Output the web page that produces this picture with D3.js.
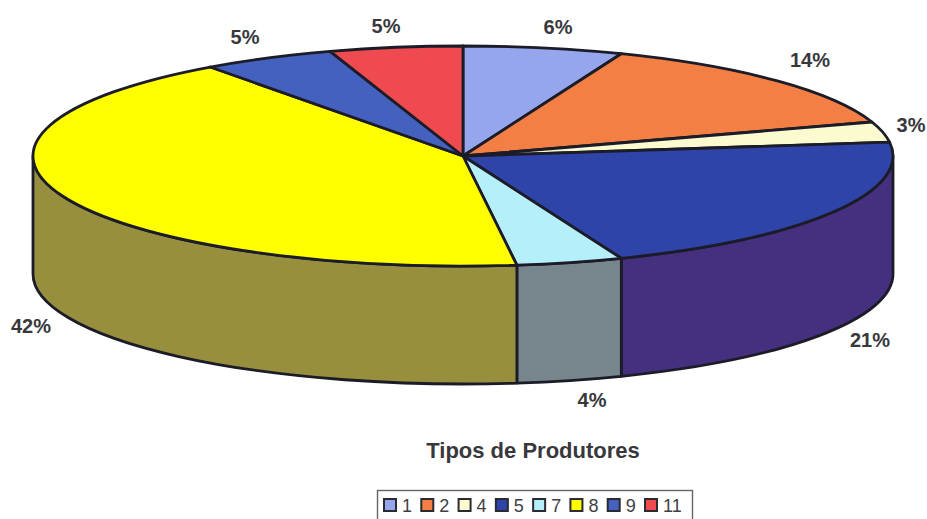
<!DOCTYPE html>
<html>
<head>
<meta charset="utf-8">
<title>Tipos de Produtores</title>
<script src="https://cdnjs.cloudflare.com/ajax/libs/d3/7.8.5/d3.min.js"></script>
<style>
body { margin: 0; background: #fff; }
text { font-family: "Liberation Sans", Arial, sans-serif; fill: #38383c; }
.pct { font-size: 20px; font-weight: bold; }
.title { font-size: 22px; font-weight: bold; }
.leg { font-size: 18px; fill: #404044; }
</style>
</head>
<body>
<div id="chart"></div>
<script>
// Producer types and their share, clockwise from twelve o'clock
var categories = ['1', '2', '4', '5', '7', '8', '9', '11'];
var shares = [6, 14, 3, 21, 4, 42, 5, 5];
var topColors = ['#95a6ec', '#f47f45', '#fbfbcf', '#2f44a8', '#b5effa', '#ffff00', '#4461bf', '#ef4a50'];
var sideColors = ['#6f7cb0', '#b65f34', '#bcbc9b', '#44307f', '#76868b', '#978f3e', '#33488f', '#b3383c'];
var labelPos = [
    [558, 27], [810, 60], [911, 125], [870, 340], [592, 400], [31, 326], [245, 37], [386, 26]
];

var w = 927, h = 519;
var cx = 463, cy = 156, rx = 430, ry = 110, depth = 118;

var svg = d3.select('#chart').append('svg')
    .attr('width', w)
    .attr('height', h)
    .style('display', 'block');

var pie = d3.pie().sort(null).value(function(d) { return d; });
var arcs = pie(shares);

// point on the top ellipse, angle clockwise from the top
function px(a) { return cx + rx * Math.sin(a); }
function py(a) { return cy - ry * Math.cos(a); }

function topSlice(d) {
    var large = d.endAngle - d.startAngle > Math.PI ? 1 : 0;
    return 'M' + cx + ',' + cy +
        'L' + px(d.startAngle) + ',' + py(d.startAngle) +
        'A' + rx + ',' + ry + ' 0 ' + large + ' 1 ' + px(d.endAngle) + ',' + py(d.endAngle) + 'Z';
}

// outer wall, only the front half of the rim shows
function wall(d) {
    var a0 = Math.max(d.startAngle, Math.PI / 2);
    var a1 = Math.min(d.endAngle, Math.PI * 1.5);
    if (a1 <= a0) return null;
    return 'M' + px(a0) + ',' + py(a0) +
        'A' + rx + ',' + ry + ' 0 0 1 ' + px(a1) + ',' + py(a1) +
        'L' + px(a1) + ',' + (py(a1) + depth) +
        'A' + rx + ',' + ry + ' 0 0 0 ' + px(a0) + ',' + (py(a0) + depth) + 'Z';
}

svg.append('g').selectAll('path')
    .data(arcs)
    .join('path')
    .attr('d', wall)
    .attr('fill', function(d, i) { return sideColors[i]; })
    .attr('stroke', '#1c1c28')
    .attr('stroke-width', 2.8)
    .attr('stroke-linejoin', 'round');

svg.append('g').selectAll('path')
    .data(arcs)
    .join('path')
    .attr('d', topSlice)
    .attr('fill', function(d, i) { return topColors[i]; })
    .attr('stroke', '#1c1c28')
    .attr('stroke-width', 2.8)
    .attr('stroke-linejoin', 'round');

svg.append('g').selectAll('text')
    .data(shares)
    .join('text')
    .attr('class', 'pct')
    .attr('x', function(d, i) { return labelPos[i][0]; })
    .attr('y', function(d, i) { return labelPos[i][1] + 7; })
    .attr('text-anchor', 'middle')
    .text(function(d) { return d + '%'; });

svg.append('text')
    .attr('class', 'title')
    .attr('x', 533)
    .attr('y', 458)
    .attr('text-anchor', 'middle')
    .text('Tipos de Produtores');

// legend, the frame runs off the bottom of the page
var legend = svg.append('g');
legend.append('rect')
    .attr('x', 377.5).attr('y', 490.5)
    .attr('width', 315).attr('height', 40)
    .attr('fill', '#fff')
    .attr('stroke', '#666')
    .attr('stroke-width', 1.4);

var legendX = d3.scalePoint().domain(categories).range([383, 644]);

var item = legend.selectAll('g')
    .data(categories)
    .join('g')
    .attr('transform', function(d) { return 'translate(' + legendX(d) + ',498)'; });

item.append('rect')
    .attr('x', 1).attr('y', 1)
    .attr('width', 12).attr('height', 12)
    .attr('fill', function(d, i) { return topColors[i]; })
    .attr('stroke', '#2a2a30')
    .attr('stroke-width', 2);

item.append('text')
    .attr('class', 'leg')
    .attr('x', 19)
    .attr('y', 14)
    .text(function(d) { return d; });
</script>
</body>
</html>
